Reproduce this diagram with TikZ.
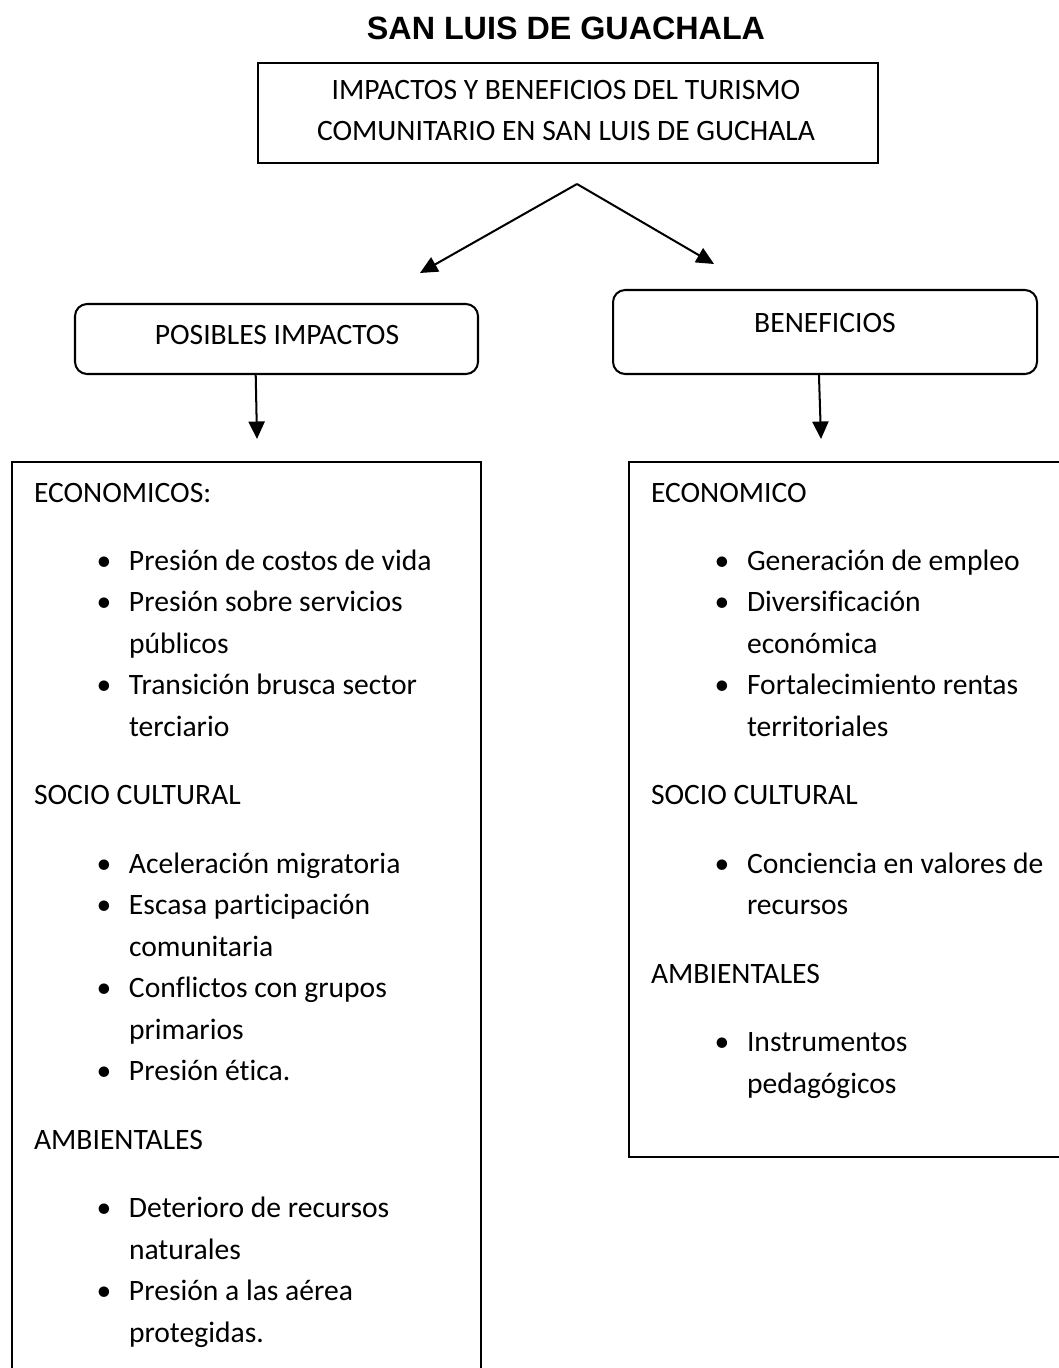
\documentclass[tikz,border=0pt]{standalone}
\usepackage{fontspec}
\setmainfont{Carlito}[Ligatures=NoCommon]
\newfontfamily\titlefont{Liberation Sans}
\usetikzlibrary{arrows.meta}
\usetikzlibrary{fit}
\newcommand{\bul}{\llap{\makebox[0pt]{\textbullet}\hspace{9.3pt}}}

\begin{document}
\begin{tikzpicture}[
			     x=0.3717pt, y=-0.3717pt,
			     line width=0.75pt,
			     font=\fontsize{11}{15.4}\selectfont,
			     txt/.style={anchor=base west, inner sep=0pt},
			     ctxt/.style={anchor=base, inner sep=0pt},
			     plainbox/.style={draw, inner sep=0pt},
			     roundbox/.style={draw, rounded corners=4.5pt, inner sep=0pt},
			     arr/.style={-{Triangle[length=6.5pt,width=6pt]}}
			     ] 
\useasboundingbox (0,0) rectangle (1059,1368);
\clip (0,0) rectangle (1059,1368);
% title and top box
\node[ctxt, font=\titlefont\bfseries\fontsize{12}{14}\selectfont] (title) at (566,40) {SAN LUIS DE GUACHALA};
\node[plainbox, fit={(258,63) (878,163)}] (top) {};
\node[ctxt] (top1) at (566,99.5) {IMPACTOS Y BENEFICIOS DEL TURISMO};
\node[ctxt] (top2) at (566,141) {COMUNITARIO EN SAN LUIS DE GUCHALA};
\coordinate (apex) at (577,184);
\coordinate (tipl) at (420,273);
\coordinate (tipr) at (714,264);
\draw[arr] (apex) -- (tipl);
\draw[arr] (apex) -- (tipr);
% second level
\node[roundbox, fit={(75,304) (478,374)}] (posimp) {};
\node[ctxt] (posimpt) at (277,344.5) {POSIBLES IMPACTOS};
\node[roundbox, fit={(613,290) (1037,374)}] (benef) {};
\node[ctxt] (beneft) at (825,332.5) {BENEFICIOS};
\coordinate (dl) at (257,439);
\coordinate (dr) at (821,439);
\draw[arr] (posimp.240) -- (dl);
\draw[arr] (benef.262) -- (dr);
% lists
\node[plainbox, fit={(12,462) (481,1400)}] (imp) {};
\node[plainbox, fit={(629,462) (1080,1157)}] (ben) {};
\node[txt] (i1) at (33,502) {ECONOMICOS:};
\node[txt] (i2) at (128,570.4) {\bul Presión de costos de vida};
\node[txt] (i3) at (128,611.9) {\bul Presión sobre servicios};
\node[txt] (i4) at (128,653.4) {públicos};
\node[txt] (i5) at (128,694.9) {\bul Transición brusca sector};
\node[txt] (i6) at (128,736.4) {terciario};
\node[txt] (i7) at (33,804.8) {SOCIO CULTURAL};
\node[txt] (i8) at (128,873.2) {\bul Aceleración migratoria};
\node[txt] (i9) at (128,914.7) {\bul Escasa participación};
\node[txt] (i10) at (128,956.2) {comunitaria};
\node[txt] (i11) at (128,997.7) {\bul Conflictos con grupos};
\node[txt] (i12) at (128,1039.2) {primarios};
\node[txt] (i13) at (128,1080.7) {\bul Presión ética.};
\node[txt] (i14) at (33,1149.1) {AMBIENTALES};
\node[txt] (i15) at (128,1217.5) {\bul Deterioro de recursos};
\node[txt] (i16) at (128,1259) {naturales};
\node[txt] (i17) at (128,1300.5) {\bul Presión a las aérea};
\node[txt] (i18) at (128,1342) {protegidas.};
\node[txt] (b1) at (650,502) {ECONOMICO};
\node[txt] (b2) at (746,570.4) {\bul Generación de empleo};
\node[txt] (b3) at (746,611.9) {\bul Diversificación};
\node[txt] (b4) at (746,653.4) {económica};
\node[txt] (b5) at (746,694.9) {\bul Fortalecimiento rentas};
\node[txt] (b6) at (746,736.4) {territoriales};
\node[txt] (b7) at (650,804.8) {SOCIO CULTURAL};
\node[txt] (b8) at (746,873.2) {\bul Conciencia en valores de};
\node[txt] (b9) at (746,914.7) {recursos};
\node[txt] (b10) at (650,983.1) {AMBIENTALES};
\node[txt] (b11) at (746,1051.5) {\bul Instrumentos};
\node[txt] (b12) at (746,1093) {pedagógicos};
\end{tikzpicture}
\end{document}
